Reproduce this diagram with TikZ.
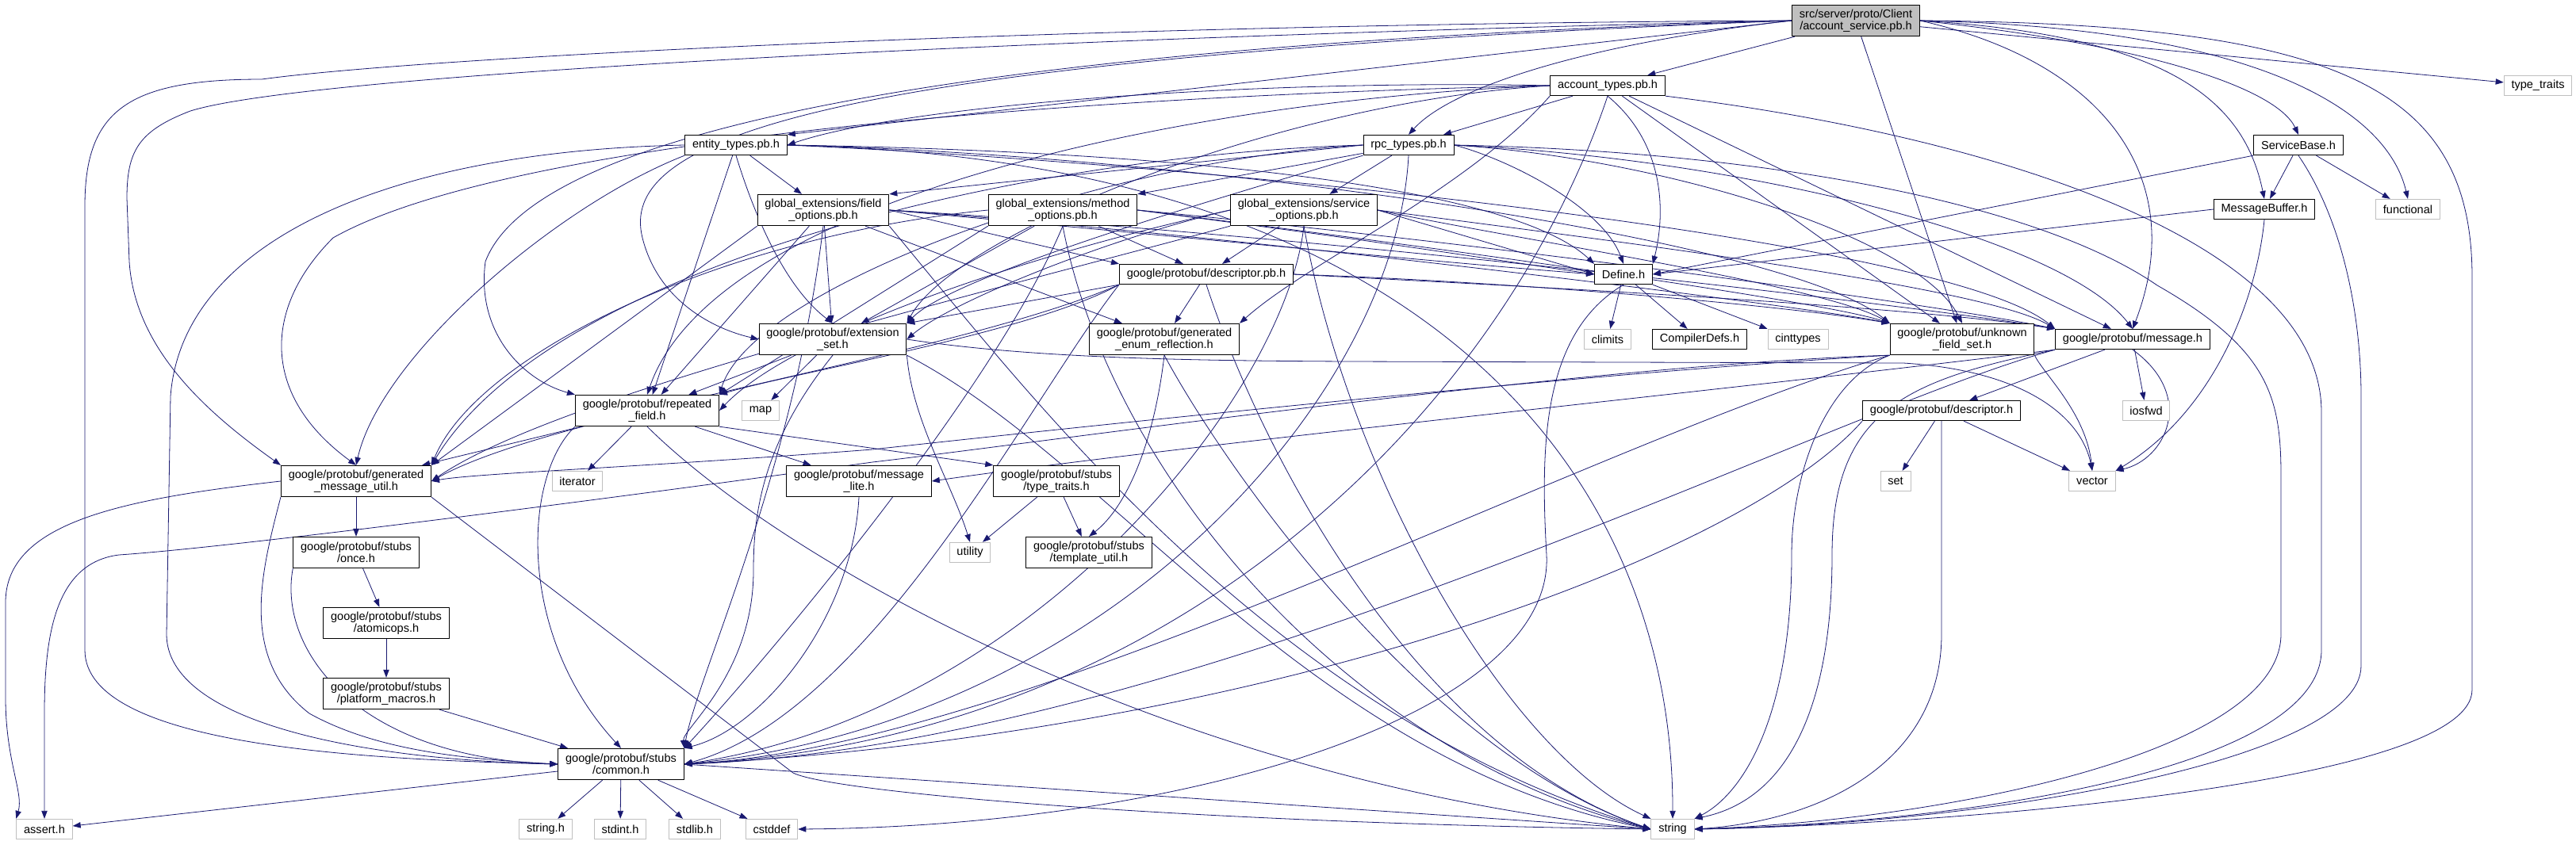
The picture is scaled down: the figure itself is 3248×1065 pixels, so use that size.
\documentclass[tikz,border=0pt]{standalone}
\usepackage{fontspec}
\setmainfont{Liberation Sans}
\usetikzlibrary{arrows.meta,backgrounds}
\definecolor{edgeblue}{HTML}{191970}
\definecolor{sysgray}{HTML}{BFBFBF}
\tikzset{
  hdr/.style={draw=black,fill=white,line width=0.75pt,inner xsep=7pt,inner ysep=2pt,minimum height=19pt,align=center},
  twoline/.style={minimum height=29.5pt},
  sys/.style={hdr,draw=sysgray},
  mainfile/.style={hdr,fill=sysgray},
  dep/.style={draw=edgeblue,line width=0.6pt,-{Triangle[length=7.5pt,width=5.5pt]}},
}
\begin{document}
\begin{tikzpicture}[x=0.75pt,y=-0.75pt,line join=round,line cap=round,font=\fontsize{10.9}{11}\selectfont]
            \useasboundingbox (0,0) rectangle (3248,1065);
            % files
            \node[mainfile,twoline] (svc) at (2340,26) {src/server/proto/Client\\/account\_service.pb.h};
            \node[hdr] (acct) at (2027,108) {account\_types.pb.h};
            \node[sys] (stdtraits) at (3200,108) {type\_traits};
            \node[hdr] (entity) at (928,183) {entity\_types.pb.h};
            \node[hdr] (rpc) at (1776,183) {rpc\_types.pb.h};
            \node[hdr] (svcbase) at (2898,183) {ServiceBase.h};
            \node[hdr,twoline] (fieldopt) at (1038,265) {global\_extensions/field\\\_options.pb.h};
            \node[hdr,twoline] (methodopt) at (1340,265) {global\_extensions/method\\\_options.pb.h};
            \node[hdr,twoline] (serviceopt) at (1644,265) {global\_extensions/service\\\_options.pb.h};
            \node[hdr] (msgbuf) at (2855,264) {MessageBuffer.h};
            \node[sys] (functional) at (3036,264) {functional};
            \node[hdr] (descpb) at (1521,346) {google/protobuf/descriptor.pb.h};
            \node[hdr] (define) at (2047,346) {Define.h};
            \node[hdr,twoline] (extset) at (1050,428) {google/protobuf/extension\\\_set.h};
            \node[hdr,twoline] (genenum) at (1468,428) {google/protobuf/generated\\\_enum\_reflection.h};
            \node[sys] (climits) at (2027,428) {climits};
            \node[hdr] (compdefs) at (2143,428) {CompilerDefs.h};
            \node[sys] (cinttypes) at (2267,428) {cinttypes};
            \node[hdr,twoline] (unkset) at (2474,428) {google/protobuf/unknown\\\_field\_set.h};
            \node[hdr] (message) at (2689,428) {google/protobuf/message.h};
            \node[hdr,twoline] (repfield) at (816,518) {google/protobuf/repeated\\\_field.h};
            \node[sys] (map) at (959,518) {map};
            \node[hdr] (descr) at (2448,518) {google/protobuf/descriptor.h};
            \node[sys] (iosfwd) at (2706,518) {iosfwd};
            \node[hdr,twoline] (genmsg) at (449,607) {google/protobuf/generated\\\_message\_util.h};
            \node[sys] (iterator) at (728,607) {iterator};
            \node[hdr,twoline] (msglite) at (1083,607) {google/protobuf/message\\\_lite.h};
            \node[hdr,twoline] (typetr) at (1332,607) {google/protobuf/stubs\\/type\_traits.h};
            \node[sys] (set) at (2390,607) {set};
            \node[sys] (vector) at (2638,607) {vector};
            \node[hdr,twoline] (once) at (449,697) {google/protobuf/stubs\\/once.h};
            \node[sys] (utility) at (1223,697) {utility};
            \node[hdr,twoline] (tmplutil) at (1373,697) {google/protobuf/stubs\\/template\_util.h};
            \node[hdr,twoline] (atomic) at (487,786) {google/protobuf/stubs\\/atomicops.h};
            \node[hdr,twoline] (platform) at (487,875) {google/protobuf/stubs\\/platform\_macros.h};
            \node[hdr,twoline] (common) at (783,964) {google/protobuf/stubs\\/common.h};
            \node[sys] (assert) at (56,1046) {assert.h};
            \node[sys] (stringh) at (688,1046) {string.h};
            \node[sys] (stdint) at (782,1046) {stdint.h};
            \node[sys] (stdlib) at (876,1046) {stdlib.h};
            \node[sys] (cstddef) at (973,1046) {cstddef};
            \node[sys] (string) at (2109,1046) {string};
            % includes
            \begin{scope}[on background layer]
            % account_service.pb.h
            \draw[dep] (svc) -- (acct);
            \draw[dep] (svc.west) .. controls (2000,55) and (1830,110) .. (rpc.north);
            \draw[dep] (svc.west) -- (entity.north east);
            \draw[dep] (svc.east) .. controls (2700,55) and (2870,110) .. (svcbase.north);
            \draw[dep] (svc.east) .. controls (2740,45) and (2830,130) .. (msgbuf.north);
            \draw[dep] (svc.east) .. controls (2850,35) and (3010,140) .. (functional.north);
            \draw[dep] (svc) -- (stdtraits);
            \draw[dep] (svc.east) .. controls (2950,30) and (3117,110) .. (3117,350) -- (3117,870) .. controls (3117,990) and (2450,1040) .. (string.east);
            \draw[dep] (svc) -- (unkset);
            \draw[dep] (svc.east) .. controls (2660,80) and (2760,230) .. (message.north);
            \draw[dep] (svc.west) .. controls (1400,30) and (550,70) .. (330,100) .. controls (160,100) and (107,140) .. (107,260) -- (107,820) .. controls (107,940) and (450,958) .. (common.west);
            \draw[dep] (svc.west) .. controls (1400,45) and (400,90) .. (240,140) .. controls (175,165) and (160,190) .. (160,250) -- (163,330) .. controls (170,440) and (260,520) .. (genmsg.north west);
            \draw[dep] (svc.west) .. controls (1300,55) and (680,150) .. (612,330) .. controls (600,420) and (660,480) .. (repfield.north west);
            \draw[dep] (svc.west) .. controls (1000,75) and (780,180) .. (810,300) .. controls (830,380) and (900,415) .. (extset.west);
            % account_types.pb.h
            \draw[dep] (acct.west) .. controls (1600,100) and (1150,130) .. (entity.east);
            \draw[dep] (acct) -- (rpc);
            \draw[dep] (acct.south) .. controls (2110,190) and (2095,290) .. (define.north east);
            \draw[dep] (acct.south west) .. controls (1850,240) and (1650,330) .. (genenum.north east);
            \draw[dep] (acct.south east) .. controls (2500,170) and (2927,300) .. (2927,520) -- (2927,820) .. controls (2927,970) and (2480,1038) .. (string.east);
            \draw[dep] (acct.south) .. controls (1900,500) and (1500,930) .. (common.east);
            \draw[dep] (acct.west) .. controls (1400,120) and (650,170) .. (420,300) .. controls (330,390) and (330,500) .. (genmsg.north);
            \draw[dep] (acct) -- (message);
            \draw[dep] (acct) -- (unkset);
            \draw[dep] (acct.west) .. controls (1500,125) and (900,250) .. (repfield.north);
            \draw[dep] (acct.west) .. controls (1600,130) and (1200,300) .. (extset.north east);
            % entity_types.pb.h
            \draw[dep] (entity) -- (fieldopt);
            \draw[dep] (entity.west) .. controls (500,190) and (230,300) .. (215,500) -- (210,800) .. controls (210,910) and (450,958) .. (common.west);
            \draw[dep] (entity.south west) .. controls (700,260) and (480,450) .. (genmsg.north);
            \draw[dep] (entity) -- (repfield);
            \draw[dep] (entity.south) .. controls (960,300) and (1000,370) .. (extset.north);
            \draw[dep] (entity.east) .. controls (1500,205) and (2450,300) .. (message.north west);
            \draw[dep] (entity.east) .. controls (1500,195) and (2250,300) .. (unkset.north west);
            \draw[dep] (entity.east) .. controls (1450,190) and (1900,230) .. (define.north west);
            \draw[dep] (entity.east) .. controls (1800,200) and (2110,600) .. (string.north);
            % rpc_types.pb.h
            \draw[dep] (rpc.west) -- (fieldopt.north east);
            \draw[dep] (rpc) -- (methodopt.north east);
            \draw[dep] (rpc) -- (serviceopt);
            \draw[dep] (rpc.east) .. controls (1900,200) and (2020,260) .. (define.north);
            \draw[dep] (rpc.east) .. controls (2200,190) and (2560,250) .. (2720,360) .. controls (2860,440) and (2876,500) .. (2876,600) -- (2876,800) .. controls (2876,950) and (2450,1035) .. (string.east);
            \draw[dep] (rpc.south) .. controls (1760,500) and (1400,910) .. (common.east);
            \draw[dep] (rpc.west) .. controls (1300,195) and (700,330) .. (genmsg.north east);
            \draw[dep] (rpc.west) .. controls (1400,200) and (950,360) .. (repfield.north east);
            \draw[dep] (rpc.south west) .. controls (1500,260) and (1200,350) .. (extset.north east);
            \draw[dep] (rpc.east) .. controls (2200,200) and (2600,300) .. (message.north);
            \draw[dep] (rpc.east) .. controls (2100,200) and (2420,300) .. (unkset.north);
            % global_extensions/field_options.pb.h
            \draw[dep] (fieldopt.east) -- (descpb.north west);
            \draw[dep] (fieldopt.east) .. controls (1400,290) and (1800,330) .. (define.west);
            \draw[dep] (fieldopt) -- (genenum);
            \draw[dep] (fieldopt) -- (extset);
            \draw[dep] (fieldopt) -- (repfield);
            \draw[dep] (fieldopt.south west) -- (genmsg.north east);
            \draw[dep] (fieldopt.south) .. controls (1000,600) and (880,850) .. (common.north east);
            \draw[dep] (fieldopt.east) .. controls (1700,300) and (2450,390) .. (message.north west);
            \draw[dep] (fieldopt.east) .. controls (1600,300) and (2300,390) .. (unkset.north west);
            \draw[dep] (fieldopt.south east) .. controls (1300,500) and (1600,900) .. (string.west);
            % global_extensions/method_options.pb.h
            \draw[dep] (methodopt) -- (descpb);
            \draw[dep] (methodopt.east) .. controls (1700,300) .. (define.west);
            \draw[dep] (methodopt) -- (extset);
            \draw[dep] (methodopt.south west) -- (repfield.north east);
            \draw[dep] (methodopt.west) .. controls (900,300) and (600,450) .. (genmsg.north east);
            \draw[dep] (methodopt.south) .. controls (1250,500) and (950,850) .. (common.north east);
            \draw[dep] (methodopt.east) .. controls (1900,310) and (2450,385) .. (message.north west);
            \draw[dep] (methodopt.east) .. controls (1800,310) and (2300,380) .. (unkset.north west);
            \draw[dep] (methodopt.south) .. controls (1400,600) and (1700,950) .. (string.west);
            % global_extensions/service_options.pb.h
            \draw[dep] (serviceopt) -- (descpb);
            \draw[dep] (serviceopt.east) -- (define.west);
            \draw[dep] (serviceopt.west) .. controls (1400,300) and (1200,380) .. (extset.east);
            \draw[dep] (serviceopt.west) .. controls (1300,320) and (1000,420) .. (repfield.east);
            \draw[dep] (serviceopt.south west) .. controls (1200,380) and (700,500) .. (genmsg.east);
            \draw[dep] (serviceopt.south) .. controls (1620,500) and (1300,900) .. (common.east);
            \draw[dep] (serviceopt.east) .. controls (2000,300) and (2500,360) .. (message.north west);
            \draw[dep] (serviceopt.east) .. controls (1900,300) and (2300,360) .. (unkset.north west);
            \draw[dep] (serviceopt.south) .. controls (1700,600) and (1900,950) .. (string.north west);
            % google/protobuf/descriptor.pb.h
            \draw[dep] (descpb.south) .. controls (1600,600) and (1800,950) .. (string.west);
            \draw[dep] (descpb.south west) .. controls (1300,500) and (1100,900) .. (common.east);
            \draw[dep] (descpb.south west) .. controls (1200,450) and (700,520) .. (genmsg.east);
            \draw[dep] (descpb.east) .. controls (1900,360) and (2400,385) .. (message.north west);
            \draw[dep] (descpb.east) .. controls (1900,355) and (2250,385) .. (unkset.north west);
            \draw[dep] (descpb.south west) .. controls (1300,420) and (1000,470) .. (repfield.north east);
            \draw[dep] (descpb.south west) -- (extset.north east);
            \draw[dep] (descpb) -- (genenum);
            % Define.h
            \draw[dep] (define) -- (climits);
            \draw[dep] (define) -- (compdefs);
            \draw[dep] (define.south east) -- (cinttypes.north west);
            \draw[dep] (define.south) .. controls (1945,420) and (1942,560) .. (1950,700) .. controls (1960,900) and (1500,1042) .. (cstddef.east);
            % ServiceBase.h
            \draw[dep] (svcbase) -- (msgbuf);
            \draw[dep] (svcbase) -- (functional);
            \draw[dep] (svcbase.south west) -- (define.east);
            \draw[dep] (svcbase.south) .. controls (2955,280) and (2977,400) .. (2977,500) -- (2977,840) .. controls (2977,960) and (2500,1040) .. (string.east);
            % MessageBuffer.h
            \draw[dep] (msgbuf.west) -- (define.east);
            \draw[dep] (msgbuf.south) .. controls (2845,380) and (2790,520) .. (vector.north east);
            % google/protobuf/extension_set.h
            \draw[dep] (extset) -- (repfield);
            \draw[dep] (extset) -- (map);
            \draw[dep] (extset.south east) .. controls (1150,530) and (1200,610) .. (utility.north);
            \draw[dep] (extset.south) .. controls (960,560) and (950,650) .. (950,720) .. controls (950,850) and (860,920) .. (common.north east);
            \draw[dep] (extset.south east) .. controls (1400,580) and (1650,960) .. (string.west);
            \draw[dep] (extset.east) .. controls (1300,452) and (1500,455) .. (1700,456) -- (2400,458) .. controls (2560,468) and (2625,530) .. (vector.north);
            % google/protobuf/generated_enum_reflection.h
            \draw[dep] (genenum.south) .. controls (1550,600) and (1800,950) .. (string.west);
            \draw[dep] (genenum.south) .. controls (1455,560) and (1420,640) .. (tmplutil.north);
            % google/protobuf/unknown_field_set.h
            \draw[dep] (unkset.south west) .. controls (2300,480) and (2259,600) .. (2259,700) .. controls (2259,900) and (2200,1000) .. (string.north east);
            \draw[dep] (unkset.south east) .. controls (2575,470) and (2630,520) .. (vector.north);
            \draw[dep] (unkset.south west) .. controls (2000,560) and (1300,940) .. (common.east);
            \draw[dep] (unkset.south west) .. controls (2000,460) and (1300,560) .. (1100,583) .. controls (800,625) and (300,690) .. (150,700) .. controls (70,710) and (56,800) .. (56,900) -- (assert.north);
            \draw[dep] (unkset.south west) .. controls (2000,470) and (1300,545) .. (1100,567) .. controls (800,590) and (600,597) .. (genmsg.east);
            % google/protobuf/message.h
            \draw[dep] (message) -- (descr);
            \draw[dep] (message) -- (iosfwd);
            \draw[dep] (message.south) .. controls (2770,500) and (2730,580) .. (vector.north east);
            \draw[dep] (message.south west) .. controls (2400,480) and (2310,520) .. (2310,700) .. controls (2310,900) and (2250,1010) .. (string.north east);
            \draw[dep] (message.south west) .. controls (2200,490) and (1500,560) .. (msglite.east);
            \draw[dep] (message.south west) .. controls (2300,520) and (1500,940) .. (common.east);
            % google/protobuf/descriptor.h
            \draw[dep] (descr) -- (set);
            \draw[dep] (descr) -- (vector);
            \draw[dep] (descr.south) -- (2448,800) .. controls (2448,960) and (2300,1035) .. (string.east);
            \draw[dep] (descr.south west) .. controls (2200,700) and (1600,925) .. (common.east);
            % google/protobuf/repeated_field.h
            \draw[dep] (repfield) -- (genmsg);
            \draw[dep] (repfield) -- (iterator);
            \draw[dep] (repfield) -- (msglite);
            \draw[dep] (repfield.south east) -- (typetr.north west);
            \draw[dep] (repfield.south west) .. controls (660,600) and (650,800) .. (common.north);
            \draw[dep] (repfield.south) .. controls (1000,720) and (1500,990) .. (string.west);
            % google/protobuf/generated_message_util.h
            \draw[dep] (genmsg) -- (once);
            \draw[dep] (genmsg.west) .. controls (150,630) and (7,660) .. (7,760) -- (7,880) .. controls (7,960) and (30,1000) .. (assert.north west);
            \draw[dep] (genmsg.south west) .. controls (330,720) and (300,830) .. (390,900) .. controls (480,950) and (600,958) .. (common.west);
            \draw[dep] (genmsg.south east) -- (1000,975) .. controls (1050,1000) and (1500,1038) .. (string.west);
            % google/protobuf/message_lite.h
            \draw[dep] (msglite.south) .. controls (1075,780) and (960,920) .. (common.north east);
            % google/protobuf/stubs
            \draw[dep] (typetr) -- (utility);
            \draw[dep] (typetr) -- (tmplutil);
            \draw[dep] (once) -- (atomic);
            \draw[dep] (once.south west) .. controls (350,820) and (450,955) .. (common.west);
            \draw[dep] (atomic) -- (platform);
            \draw[dep] (platform) -- (common);
            \draw[dep] (common) -- (assert);
            \draw[dep] (common) -- (stringh);
            \draw[dep] (common) -- (stdint);
            \draw[dep] (common) -- (stdlib);
            \draw[dep] (common) -- (cstddef);
            \draw[dep] (common.east) -- (string.west);
            \end{scope}
        \end{tikzpicture}
\end{document}
